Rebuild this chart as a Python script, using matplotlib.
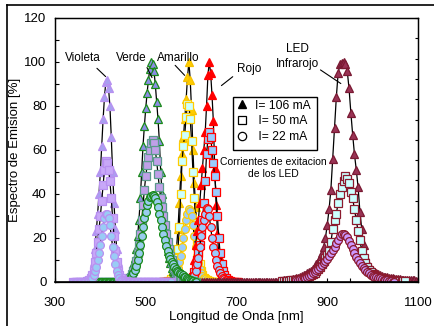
import numpy as np
import matplotlib
matplotlib.use("Agg")
import matplotlib.pyplot as plt
from matplotlib.lines import Line2D
from matplotlib.patches import Rectangle
from matplotlib.ticker import MultipleLocator

plt.rcParams['font.family'] = ['Liberation Sans', 'DejaVu Sans']

# --- datos (longitud de onda de inicio, paso, valores) ---
# Violeta: linea base 340-556 nm, paso 3 nm, pico desde 370 nm
violeta_base = (340, 556)
violeta_ini = 370
violeta_106 = [0.5, 1, 1.5, 3, 5, 9, 15, 23, 31, 40, 50, 62, 74, 84, 91, 92, 88, 80, 66, 50,
               36, 24, 15, 9, 5, 3, 1.5, 1, 0.5]
violeta_50 = [0.3, 0.6, 1, 2, 3, 5, 9, 13, 18, 24, 30, 37, 44, 51, 55, 54, 51, 46, 38, 29,
              21, 14, 9, 5, 3, 2, 1, 0.5, 0.3]
violeta_22 = [0.2, 0.4, 0.6, 1, 2, 3, 5, 7, 10, 13, 17, 21, 25, 29, 31, 31, 29, 26, 21, 16,
              12, 8, 5, 3, 2, 1, 0.6, 0.3, 0.2]

# Verde: linea base 377-611 nm, pico desde 455 nm
verde_base = (377, 611)
verde_ini = 455
verde_106 = [0.5, 1, 1.5, 2.5, 4, 6, 8, 11, 15, 21, 28, 38, 50, 62, 71, 79, 86, 92, 97, 100,
             99, 96, 90, 82, 74, 64, 50, 40, 31, 24, 18, 14, 11, 8.5, 6.5, 5, 4, 3.2, 2.6, 2,
             1.6, 1.3, 1, 0.8, 0.6, 0.5, 0.4, 0.3, 0.2, 0.2, 0.1, 0.1, 0]
verde_50 = [0.5, 0.8, 1, 1.6, 2.4, 3.5, 5, 7, 9.5, 13, 17, 22, 28, 35, 42, 48, 53, 57, 60, 63,
            64.5, 63, 60, 55, 49, 43, 38, 34, 30, 26, 22, 18, 15, 12, 10, 8, 6.5, 5.2, 4.2, 3.4,
            2.8, 2.3, 1.9, 1.5, 1.2, 1, 0.8, 0.6, 0.5, 0.4, 0.3, 0.2, 0]
verde_22 = [0.5, 0.8, 1, 1.5, 2, 3, 4, 5.5, 7.5, 10, 13, 17, 21, 25, 29, 32, 35, 37, 38.5, 39,
            39.5, 39, 38, 36.5, 34, 31, 28, 25, 22, 19, 16.5, 14, 12, 10.5, 9, 8, 7, 6, 5.2, 4.5,
            4, 3.5, 3, 2.5, 2.1, 1.8, 1.4, 1.1, 0.8, 0.6, 0.4, 0.2, 0]

# Amarillo: linea base 538-661 nm, pico desde 550 nm
amarillo_base = (538, 661)
amarillo_ini = 550
amarillo_106 = [0.5, 1, 2, 4, 7, 11, 16, 24, 36, 48, 58, 66, 74, 83, 93, 100, 92, 78, 60, 45,
                34, 25, 17, 10, 6, 4, 2.5, 1.5, 1, 0.6, 0.4, 0.3, 0.2, 0.1, 0]
amarillo_50 = [0.3, 0.6, 1.2, 2.5, 4.5, 7, 11, 15, 25, 40, 55, 62, 67, 75, 81, 80, 74, 64, 50, 38,
               27, 19, 13, 8, 5, 3.2, 2, 1.3, 0.8, 0.5, 0.3, 0.2, 0.1, 0.1, 0]
amarillo_22 = [0.2, 0.4, 0.7, 1.2, 2, 3, 4.5, 6.5, 9, 12, 16, 20, 24, 28, 31, 33, 32.5, 30, 26, 21,
               16, 12, 8.5, 6, 4, 2.7, 1.8, 1.2, 0.8, 0.5, 0.3, 0.2, 0.1, 0.1, 0]

# Rojo: linea base 538-703 nm, pico desde 595 nm
rojo_base = (538, 703)
rojo_ini = 595
rojo_106 = [0.5, 1, 2, 5, 10, 17, 23, 28, 36, 44, 52, 60, 68, 80, 94, 100, 95, 85, 73, 52,
            35, 22, 12, 6, 3.5, 2, 1.3, 0.8, 0.5, 0.3, 0.2, 0.1, 0.1, 0, 0, 0]
rojo_50 = [0.3, 0.6, 1.2, 2.5, 4.5, 7, 10, 13, 17, 22, 28, 36, 46, 58, 65, 68, 66, 60, 54, 48,
           41, 30, 20, 13, 8, 5, 3, 1.8, 1.1, 0.7, 0.4, 0.2, 0.1, 0, 0, 0]
rojo_22 = [0.2, 0.4, 0.8, 1.5, 3, 5, 8, 11, 16, 21, 25, 28, 31, 33.5, 33, 30, 25, 20, 16, 13,
           10, 7.5, 5.5, 4, 2.8, 2, 1.4, 1, 0.7, 0.5, 0.3, 0.2, 0.1, 0, 0, 0]

# Infrarrojo: paso 4 nm, pico desde 800 nm (106 mA y 50 mA) y 832 nm (22 mA)
ir_base_106 = (612, 1100)
ir_base_50 = (800, 1072)
ir_base_22 = (832, 1048)
ir_ini_106 = 800
ir_ini_50 = 800
ir_ini_22 = 832
ir_106 = [0.6, 0.7, 0.8, 0.9, 1.0, 1.1, 1.3, 1.5, 1.7, 2.0, 2.3, 2.6, 3.0, 3.4, 3.9, 4.5, 5.2, 6.0,
          7.0, 8.0, 9.3, 11, 13, 16, 20, 26, 33, 42, 56, 70, 84, 95, 99, 99.5, 100, 99, 96, 88,
          77, 67, 58, 51, 43, 32, 24, 17, 12, 9, 7.2, 6, 5.2, 4.5, 4, 3.5, 3.1, 2.8, 2.5, 2.3,
          2.1, 1.9, 1.7, 1.6, 1.5, 1.4, 1.3, 1.2, 1.1, 1.0, 0.9, 0.9, 0.8, 0.8, 0.7, 0.7, 0.6, 0.6]
ir_50 = [0.4, 0.45, 0.5, 0.55, 0.6, 0.7, 0.8, 0.9, 1.0, 1.1, 1.3, 1.5, 1.7, 2.0, 2.3, 2.7, 3.1,
         3.6, 4.2, 5.0, 5.8, 6.8, 8, 9.4, 11, 12.5, 14, 18, 24, 28, 31, 36, 40, 43, 46, 48, 47,
         45, 41, 38, 33, 28, 23, 19, 14, 11, 8.5, 6.8, 5.5, 4.5, 3.8, 3.2, 2.7, 2.3, 2.0, 1.7,
         1.5, 1.3, 1.1, 1.0, 0.9, 0.8, 0.7, 0.6, 0.5, 0.5, 0.4, 0.4, 0.3]
ir_22 = [0.9, 1.0, 1.2, 1.4, 1.7, 2.0, 2.4, 2.9, 3.4, 4.0, 4.6, 5.3, 6.0, 6.8, 7.7, 8.6, 9.6,
         10.6, 11.7, 13, 14.5, 16, 17.7, 19.3, 20.7, 21.7, 22, 21.5, 20.3, 18.7, 16.8, 14.8, 13,
         11.4, 10, 8.7, 7.5, 6.4, 5.5, 4.7, 4.0, 3.4, 2.9, 2.5, 2.2, 1.9, 1.6, 1.3, 1.1, 0.9,
         0.7, 0.5, 0.3, 0.2, 0.1]


def espectro(ini, vals, base, paso):
    # valores leidos + linea base en cero a ambos lados
    nucleo = ini + paso * np.arange(len(vals))
    izq = np.arange(base[0], ini, paso)
    der = np.arange(nucleo[-1] + paso, base[1] + 1, paso)
    wl = np.concatenate([izq, nucleo, der])
    y = np.concatenate([np.zeros(len(izq)), vals, np.zeros(len(der))])
    return wl, y


fig = plt.figure(figsize=(4.35, 3.26), dpi=100)
ax = fig.add_axes([55 / 435, 1 - 282 / 326, 363 / 435, 264 / 326])

ms = 5.6
mew = 0.9


def dibuja(wl, y, mk, fc, ec):
    ax.plot(wl, y, '-', color='k', lw=0.9, marker=mk, ms=ms, mfc=fc, mec=ec, mew=mew)


# amarillo
dibuja(*espectro(amarillo_ini, amarillo_106, amarillo_base, 3), '^', '#ffcc00', '#f5c000')
dibuja(*espectro(amarillo_ini, amarillo_50, amarillo_base, 3), 's', '#ccffff', '#ffcc00')
dibuja(*espectro(amarillo_ini, amarillo_22, amarillo_base, 3), 'o', '#99ccff', '#ffcc00')
# rojo
dibuja(*espectro(rojo_ini, rojo_106, rojo_base, 3), '^', '#ff0000', '#ff0000')
dibuja(*espectro(rojo_ini, rojo_50, rojo_base, 3), 's', '#99ccff', '#ff0000')
dibuja(*espectro(rojo_ini, rojo_22, rojo_base, 3), 'o', '#99ccff', '#ff0000')
# infrarrojo
dibuja(*espectro(ir_ini_106, ir_106, ir_base_106, 4), '^', '#993355', '#7a1a33')
dibuja(*espectro(ir_ini_50, ir_50, ir_base_50, 4), 's', '#ccffff', '#8b1a2e')
dibuja(*espectro(ir_ini_22, ir_22, ir_base_22, 4), 'o', '#cc99ff', '#8b1a2e')
# verde
dibuja(*espectro(verde_ini, verde_106, verde_base, 3), '^', '#8c8ce6', '#1a8a1a')
dibuja(*espectro(verde_ini, verde_50, verde_base, 3), 's', '#c0a0e8', '#5a9a8a')
dibuja(*espectro(verde_ini, verde_22, verde_base, 3), 'o', '#99ccee', '#1a8a1a')
# violeta
dibuja(*espectro(violeta_ini, violeta_106, violeta_base, 3), '^', '#a8a0f0', '#b890f0')
dibuja(*espectro(violeta_ini, violeta_50, violeta_base, 3), 's', '#c8a8f8', '#b890f0')
dibuja(*espectro(violeta_ini, violeta_22, violeta_base, 3), 'o', '#99ccf5', '#b890f0')

ax.set_xlim(300, 1100)
ax.set_ylim(0, 120)
ax.set_xticks([300, 500, 700, 900, 1100])
ax.set_yticks(range(0, 121, 20))
ax.xaxis.set_minor_locator(MultipleLocator(50))
ax.yaxis.set_minor_locator(MultipleLocator(10))
ax.tick_params(which='both', direction='in', length=3, width=0.8, top=False, right=False,
               labelsize=9.5)
ax.tick_params(axis='x', which='major', pad=11)
ax.tick_params(axis='y', which='major', pad=6)
for s in ax.spines.values():
    s.set_linewidth(0.9)
ax.spines['bottom'].set_linewidth(1.2)

ax2 = ax.twinx()
ax2.set_ylim(0, 130)
ax2.set_yticks(range(0, 131, 10))
ax2.tick_params(direction='in', length=2.5, width=0.8, labelright=False)
for s in ax2.spines.values():
    s.set_linewidth(0.9)

ax.set_xlabel('Longitud de Onda [nm]', fontsize=9.5, labelpad=1)
ax.set_ylabel('Espectro de Emision [%]', fontsize=9.5)
ax.yaxis.set_label_coords(-0.094, 0.5)

# etiquetas
fs = 8.5
ax.text(362, 101.8, 'Violeta', fontsize=fs, ha='center', va='center')
ax.annotate('', xy=(416, 92.5), xytext=(388, 98), arrowprops=dict(arrowstyle='-', lw=0.8))
ax.text(468.5, 101.8, 'Verde', fontsize=fs, ha='center', va='center')
ax.annotate('', xy=(516.5, 91.8), xytext=(500, 98.6), arrowprops=dict(arrowstyle='-', lw=0.8))
ax.text(572, 101.8, 'Amarillo', fontsize=fs, ha='center', va='center')
ax.annotate('', xy=(590, 93), xytext=(560.6, 99.4), arrowprops=dict(arrowstyle='-', lw=0.8))
ax.text(727, 96.8, 'Rojo', fontsize=fs, ha='center', va='center')
ax.annotate('', xy=(662, 88.5), xytext=(696.5, 94.1), arrowprops=dict(arrowstyle='-', lw=0.8))
ax.text(835, 102.5, 'LED\nInfrarojo', fontsize=fs, ha='center', va='center',
        multialignment='center', linespacing=1.3)
ax.annotate('', xy=(935, 89.5), xytext=(880, 97.1), arrowprops=dict(arrowstyle='-', lw=0.8))

# recuadro de corrientes
ax.add_patch(Rectangle((0.491, 0.5), 0.2314, 0.202, transform=ax.transAxes, fill=False,
                       ec='k', lw=1.0, zorder=5))
manijas = [Line2D([], [], ls='none', marker='^', ms=6, mfc='k', mec='k'),
           Line2D([], [], ls='none', marker='s', ms=6, mfc='white', mec='k', mew=0.9),
           Line2D([], [], ls='none', marker='o', ms=6, mfc='white', mec='k', mew=0.9)]
ax.legend(manijas, ['I= 106 mA', ' I= 50 mA', ' I= 22 mA'], loc='upper left',
          bbox_to_anchor=(0.491, 0.702), frameon=False, fontsize=8.7, borderaxespad=0,
          borderpad=0.25, handlelength=1.0, handletextpad=0.55, labelspacing=0.3)
ax.text(0.6006, 0.43, 'Corrientes de exitacion\nde los LED', transform=ax.transAxes,
        fontsize=7.5, ha='center', va='center', multialignment='center', linespacing=1.25)

# marco exterior
fig.add_artist(Line2D([7 / 435, 1], [1 - 5 / 326, 1 - 5 / 326], transform=fig.transFigure,
                      color='k', lw=1.2))
fig.add_artist(Line2D([7 / 435, 7 / 435], [0, 1 - 5 / 326], transform=fig.transFigure,
                      color='k', lw=1.2))

fig.savefig('out.png', dpi=100)
